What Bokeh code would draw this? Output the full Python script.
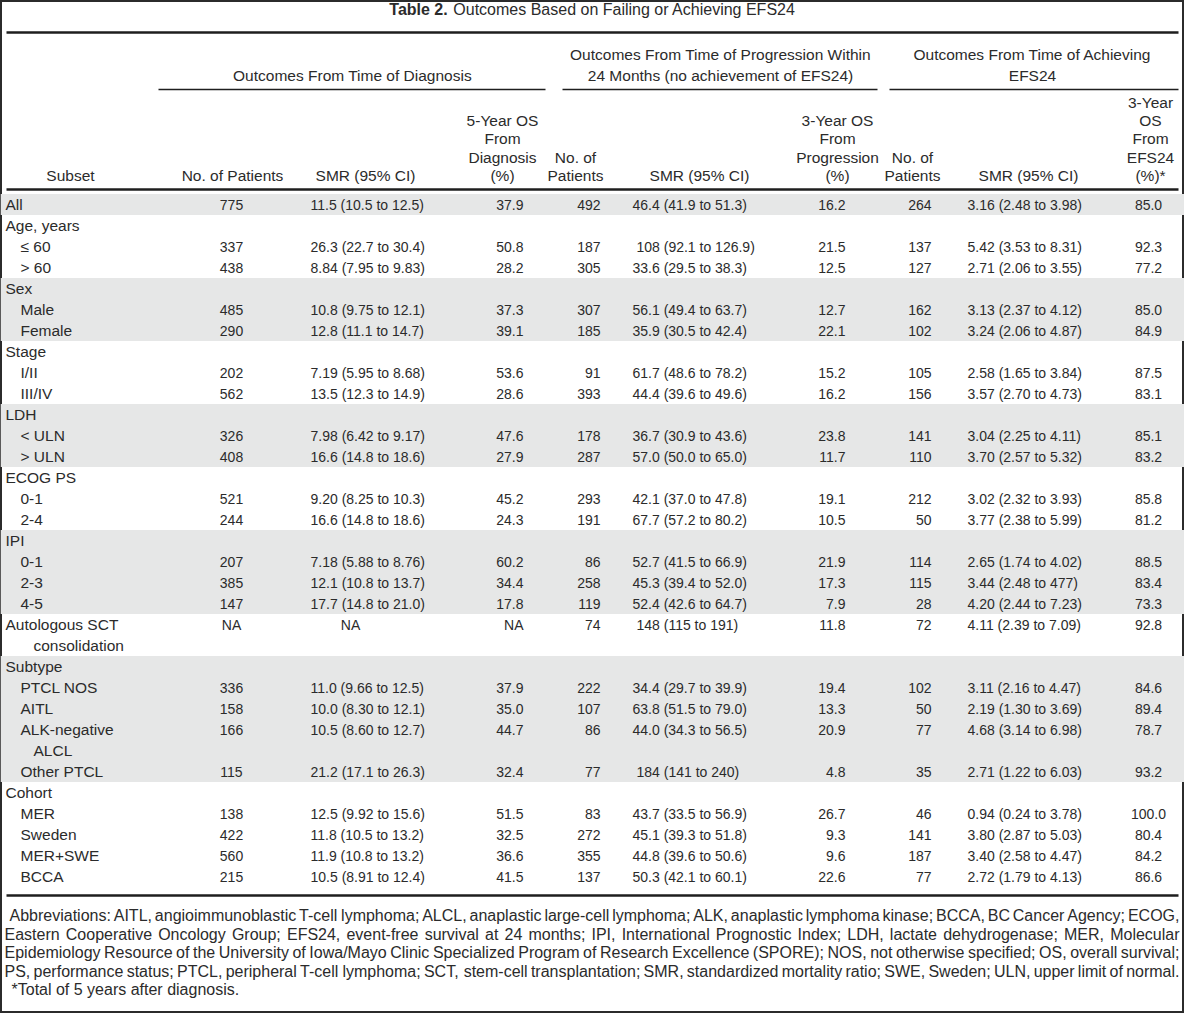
from bokeh.plotting import figure
from bokeh.models import ColumnDataSource, Range1d
from bokeh.core.properties import value
from bokeh.embed import file_html
from bokeh.resources import INLINE

# ---------------- data ----------------
title_bold = "Table 2."
title_rest = "Outcomes Based on Failing or Achieving EFS24"

group_titles = [
    ["Outcomes From Time of Diagnosis"],
    ["Outcomes From Time of Progression Within", "24 Months (no achievement of EFS24)"],
    ["Outcomes From Time of Achieving", "EFS24"],
]
column_titles = [
    ["Subset"],
    ["No. of Patients"],
    ["SMR (95% CI)"],
    ["5-Year OS", "From", "Diagnosis", "(%)"],
    ["No. of", "Patients"],
    ["SMR (95% CI)"],
    ["3-Year OS", "From", "Progression", "(%)"],
    ["No. of", "Patients"],
    ["SMR (95% CI)"],
    ["3-Year", "OS", "From", "EFS24", "(%)*"],
]

subset = ["All", "Age, years", "\u2264 60", "> 60", "Sex", "Male", "Female",
          "Stage", "I/II", "III/IV", "LDH", "< ULN", "> ULN", "ECOG PS", "0-1", "2-4",
          "IPI", "0-1", "2-3", "4-5", "Autologous SCT", "consolidation",
          "Subtype", "PTCL NOS", "AITL", "ALK-negative", "ALCL", "Other PTCL",
          "Cohort", "MER", "Sweden", "MER+SWE", "BCCA"]
subset_level = [0, 0, 1, 1, 0, 1, 1, 0, 1, 1, 0, 1, 1, 0, 1, 1,
                0, 1, 1, 1, 0, 2, 0, 1, 1, 1, 2, 1, 0, 1, 1, 1, 1]

n_dx = ["775", "", "337", "438", "", "485", "290", "", "202", "562", "", "326", "408", "", "521", "244",
        "", "207", "385", "147", "NA", "", "", "336", "158", "166", "", "115", "", "138", "422", "560", "215"]
smr_dx = ["11.5 (10.5 to 12.5)", "", "26.3 (22.7 to 30.4)", "8.84 (7.95 to 9.83)", "",
          "10.8 (9.75 to 12.1)", "12.8 (11.1 to 14.7)", "", "7.19 (5.95 to 8.68)", "13.5 (12.3 to 14.9)", "",
          "7.98 (6.42 to 9.17)", "16.6 (14.8 to 18.6)", "", "9.20 (8.25 to 10.3)", "16.6 (14.8 to 18.6)", "",
          "7.18 (5.88 to 8.76)", "12.1 (10.8 to 13.7)", "17.7 (14.8 to 21.0)", "NA", "", "",
          "11.0 (9.66 to 12.5)", "10.0 (8.30 to 12.1)", "10.5 (8.60 to 12.7)", "", "21.2 (17.1 to 26.3)", "",
          "12.5 (9.92 to 15.6)", "11.8 (10.5 to 13.2)", "11.9 (10.8 to 13.2)", "10.5 (8.91 to 12.4)"]
os5_dx = ["37.9", "", "50.8", "28.2", "", "37.3", "39.1", "", "53.6", "28.6", "", "47.6", "27.9", "", "45.2", "24.3",
          "", "60.2", "34.4", "17.8", "NA", "", "", "37.9", "35.0", "44.7", "", "32.4", "", "51.5", "32.5", "36.6", "41.5"]
n_prog = ["492", "", "187", "305", "", "307", "185", "", "91", "393", "", "178", "287", "", "293", "191",
          "", "86", "258", "119", "74", "", "", "222", "107", "86", "", "77", "", "83", "272", "355", "137"]
smr_prog = ["46.4 (41.9 to 51.3)", "", "108 (92.1 to 126.9)", "33.6 (29.5 to 38.3)", "",
            "56.1 (49.4 to 63.7)", "35.9 (30.5 to 42.4)", "", "61.7 (48.6 to 78.2)", "44.4 (39.6 to 49.6)", "",
            "36.7 (30.9 to 43.6)", "57.0 (50.0 to 65.0)", "", "42.1 (37.0 to 47.8)", "67.7 (57.2 to 80.2)", "",
            "52.7 (41.5 to 66.9)", "45.3 (39.4 to 52.0)", "52.4 (42.6 to 64.7)", "148 (115 to 191)", "", "",
            "34.4 (29.7 to 39.9)", "63.8 (51.5 to 79.0)", "44.0 (34.3 to 56.5)", "", "184 (141 to 240)", "",
            "43.7 (33.5 to 56.9)", "45.1 (39.3 to 51.8)", "44.8 (39.6 to 50.6)", "50.3 (42.1 to 60.1)"]
os3_prog = ["16.2", "", "21.5", "12.5", "", "12.7", "22.1", "", "15.2", "16.2", "", "23.8", "11.7", "", "19.1", "10.5",
            "", "21.9", "17.3", "7.9", "11.8", "", "", "19.4", "13.3", "20.9", "", "4.8", "", "26.7", "9.3", "9.6", "22.6"]
n_efs = ["264", "", "137", "127", "", "162", "102", "", "105", "156", "", "141", "110", "", "212", "50",
         "", "114", "115", "28", "72", "", "", "102", "50", "77", "", "35", "", "46", "141", "187", "77"]
smr_efs = ["3.16 (2.48 to 3.98)", "", "5.42 (3.53 to 8.31)", "2.71 (2.06 to 3.55)", "",
           "3.13 (2.37 to 4.12)", "3.24 (2.06 to 4.87)", "", "2.58 (1.65 to 3.84)", "3.57 (2.70 to 4.73)", "",
           "3.04 (2.25 to 4.11)", "3.70 (2.57 to 5.32)", "", "3.02 (2.32 to 3.93)", "3.77 (2.38 to 5.99)", "",
           "2.65 (1.74 to 4.02)", "3.44 (2.48 to 477)", "4.20 (2.44 to 7.23)", "4.11 (2.39 to 7.09)", "", "",
           "3.11 (2.16 to 4.47)", "2.19 (1.30 to 3.69)", "4.68 (3.14 to 6.98)", "", "2.71 (1.22 to 6.03)", "",
           "0.94 (0.24 to 3.78)", "3.80 (2.87 to 5.03)", "3.40 (2.58 to 4.47)", "2.72 (1.79 to 4.13)"]
os3_efs = ["85.0", "", "92.3", "77.2", "", "85.0", "84.9", "", "87.5", "83.1", "", "85.1", "83.2", "", "85.8", "81.2",
           "", "88.5", "83.4", "73.3", "92.8", "", "", "84.6", "89.4", "78.7", "", "93.2", "", "100.0", "80.4", "84.2", "86.6"]

footnote_lines = [
    "Abbreviations: AITL, angioimmunoblastic T-cell lymphoma; ALCL, anaplastic large-cell lymphoma; ALK, anaplastic lymphoma kinase; BCCA, BC Cancer Agency; ECOG,",
    "Eastern Cooperative Oncology Group; EFS24, event-free survival at 24 months; IPI, International Prognostic Index; LDH, lactate dehydrogenase; MER, Molecular",
    "Epidemiology Resource of the University of Iowa/Mayo Clinic Specialized Program of Research Excellence (SPORE); NOS, not otherwise specified; OS, overall survival;",
    "PS, performance status; PTCL, peripheral T-cell lymphoma; SCT, stem-cell transplantation; SMR, standardized mortality ratio; SWE, Sweden; ULN, upper limit of normal.",
]
footnote_last = "*Total of 5 years after diagnosis."

# ---------------- layout ----------------
W, H = 1184, 1013
OFF = 8                      # page margin: reference pixel -> figure pixel
FONT = "Liberation Sans"
INK = "#2b2b2b"
RULE = "#1e1e1e"
SHADE = "#e6e7e7"
FS_TEXT = 15.5
FS_NUM = 14
FS_NOTE = 16
ROW0, ROW_H = 212, 21
TABLE_L, TABLE_R = 14, 1186

head_cx = [78, 240, 373, 510, 583, 707, 845, 920, 1036, 1158]
head_bottom, head_pitch = 183, 18.3
group_cx = [360, 728, 1040]
group_bottom, group_pitch = 83, 21
group_rules = [(166, 553), (570, 885), (897, 1186)]
group_rule_y = 97
subset_x = [13, 28, 41]

value_cols = [  # values, alignment, anchor x
    (n_dx, "center", 239),
    (smr_dx, "left", 318),
    (os5_dx, "right", 531),
    (n_prog, "right", 608),
    (smr_prog, "left", 640),
    (os3_prog, "right", 853),
    (n_efs, "right", 939),
    (smr_efs, "left", 975),
    (os3_efs, "center", 1156),
]

_AW = {' ': 278, '!': 278, '"': 355, '%': 889, '&': 667, "'": 191, '(': 333, ')': 333, '*': 389, '+': 584,
       ',': 278, '-': 333, '.': 278, '/': 278, ':': 278, ';': 278, '<': 584, '>': 584,
       'A': 667, 'B': 667, 'C': 722, 'D': 722, 'E': 667, 'F': 611, 'G': 778, 'H': 722, 'I': 278, 'J': 500,
       'K': 667, 'L': 556, 'M': 833, 'N': 722, 'O': 778, 'P': 667, 'Q': 778, 'R': 722, 'S': 667, 'T': 611,
       'U': 722, 'V': 667, 'W': 944, 'X': 667, 'Y': 667, 'Z': 611,
       'a': 556, 'b': 556, 'c': 500, 'd': 556, 'e': 556, 'f': 278, 'g': 556, 'h': 556, 'i': 222, 'j': 222,
       'k': 500, 'l': 222, 'm': 833, 'n': 556, 'o': 556, 'p': 556, 'q': 556, 'r': 333, 's': 500, 't': 278,
       'u': 556, 'v': 500, 'w': 722, 'x': 500, 'y': 500, 'z': 500}
for _d in "0123456789":
    _AW[_d] = 556
_AWB = {'T': 611, 'a': 556, 'b': 611, 'l': 278, 'e': 556, ' ': 278, '2': 556, '.': 278}


def text_w(s, size, bold=False):
    tbl = _AWB if bold else _AW
    return sum(tbl.get(c, 556) for c in s) * size / 1000.0


p = figure(width=W, height=H, x_range=Range1d(0, W), y_range=Range1d(H, 0),
           output_backend="svg", toolbar_location=None, min_border=0,
           x_axis_type=None, y_axis_type=None,
           background_fill_color="white", border_fill_color="white")
p.grid.visible = False
p.outline_line_color = "#2b2b2b"
p.outline_line_width = 3

# --- shaded bands ---
group_idx = []
g = -1
for lv in subset_level:
    if lv == 0:
        g += 1
    group_idx.append(g)
band_top, band_bot = [], []
for gi in range(g + 1):
    rows = [i for i, v in enumerate(group_idx) if v == gi]
    if gi % 2 == 0:
        band_top.append(ROW0 + ROW_H * rows[0] - ROW_H / 2 - OFF)
        band_bot.append(ROW0 + ROW_H * rows[-1] + ROW_H / 2 - OFF)
p.quad(left=[0] * len(band_top), right=[W] * len(band_top), top=band_top, bottom=band_bot,
       fill_color=SHADE, line_color=None)

# --- rules ---
thick = dict(x0=[TABLE_L - OFF] * 3, x1=[TABLE_R - OFF] * 3, y0=[40 - OFF, 197 - OFF, 903 - OFF],
             y1=[40 - OFF, 197 - OFF, 903 - OFF])
p.segment(x0="x0", y0="y0", x1="x1", y1="y1", source=ColumnDataSource(thick), line_color=RULE, line_width=2.5)
thin = dict(x0=[a - OFF for a, b in group_rules], x1=[b - OFF for a, b in group_rules],
            y0=[group_rule_y - OFF] * 3, y1=[group_rule_y - OFF] * 3)
p.segment(x0="x0", y0="y0", x1="x1", y1="y1", source=ColumnDataSource(thin), line_color=RULE, line_width=1.5)

# --- texts ---
items = {}


def add(x, y, t, align="left", style="normal", size=FS_TEXT):
    d = items.setdefault((align, style, size), {"x": [], "y": [], "text": []})
    d["x"].append(x - OFF)
    d["y"].append(y - OFF)
    d["text"].append(t)


# title
wb = text_w(title_bold, 16, bold=True)
wr = text_w(" " + title_rest, 16)
tx = 600 - (wb + wr) / 2
add(tx, 17, title_bold, "left", "bold", 16)
add(tx + wb + text_w(" ", 16), 17, title_rest, "left", "normal", 16)

# group headers
for cx, lines in zip(group_cx, group_titles):
    n = len(lines)
    for k, s in enumerate(lines):
        add(cx, group_bottom - (n - 1 - k) * group_pitch, s, "center")

# column headers
for cx, lines in zip(head_cx, column_titles):
    n = len(lines)
    for k, s in enumerate(lines):
        add(cx, head_bottom - (n - 1 - k) * head_pitch, s, "center")

# subset labels
for i, (s, lv) in enumerate(zip(subset, subset_level)):
    add(subset_x[lv], ROW0 + ROW_H * i, s, "left")

# value cells
for vals, align, ax in value_cols:
    for i, s in enumerate(vals):
        if not s:
            continue
        y = ROW0 + ROW_H * i
        if s == "NA" and align == "left":
            add(ax + 40, y, s, "center", size=FS_NUM)
        elif align == "left" and "." not in s.split(" ")[0]:
            add(ax + 4, y, s, "left", size=FS_NUM)
        else:
            add(ax, y, s, align, size=FS_NUM)

# footnotes (justified)
note_y0, note_pitch = 923, 18.5
starts = [17, 12, 12, 12]
for k, line in enumerate(footnote_lines):
    words = line.split(" ")
    ws = [text_w(w_, FS_NOTE) for w_ in words]
    x0, x1 = starts[k], 1187
    gap = max((x1 - x0 - sum(ws)) / (len(words) - 1), 1.5)
    x = x0
    for w_, wd in zip(words, ws):
        add(x, note_y0 + k * note_pitch, w_, "left", size=FS_NOTE)
        x += wd + gap
add(19, note_y0 + 4 * note_pitch, footnote_last, "left", size=FS_NOTE)

for (align, style, size), d in items.items():
    p.text(x="x", y="y", text="text", source=ColumnDataSource(d), text_align=align,
           text_baseline="middle", text_font=value(FONT), text_font_size=f"{size}px",
           text_font_style=style, text_color=INK)

open("out.html", "w").write(file_html(p, INLINE))
